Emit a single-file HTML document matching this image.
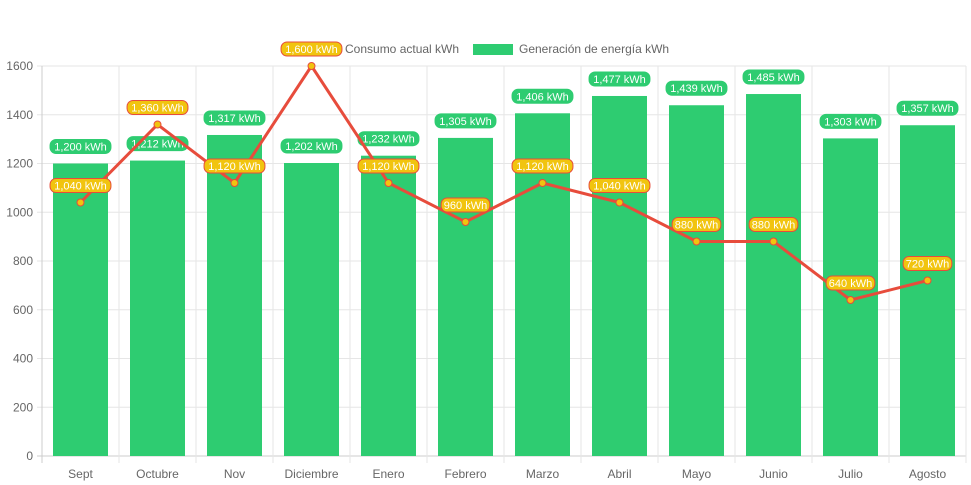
<!DOCTYPE html>
<html><head><meta charset="utf-8"><style>
body{margin:0;background:#fff;}
svg{display:block;font-family:"Liberation Sans",sans-serif;}
</style></head><body>
<svg id="c" width="971" height="485"></svg>
<script>
const categories=["Sept","Octubre","Nov","Diciembre","Enero","Febrero","Marzo","Abril","Mayo","Junio","Julio","Agosto"];
const consumo=[1040,1360,1120,1600,1120,960,1120,1040,880,880,640,720];
const generacion=[1200,1212,1317,1202,1232,1305,1406,1477,1439,1485,1303,1357];
const yTicks=[0,200,400,600,800,1000,1200,1400,1600];
const L=42,R=966,T=66,B=456,yMax=1600;
const step=(R-L)/categories.length;
const x=i=>L+step*(i+0.5);
const y=v=>B-(v/yMax)*(B-T);
const svg=document.getElementById('c');
const NS="http://www.w3.org/2000/svg";
function mk(t,a,p){const e=document.createElementNS(NS,t);for(const k in a)e.setAttribute(k,a[k]);(p||svg).appendChild(e);return e;}
const fmt=v=>v.toLocaleString('en-US')+" kWh";
yTicks.forEach(v=>{
 const g=mk('line',{x1:L-5,x2:R,y1:y(v),y2:y(v),stroke:v===0?'#ccc':'#e6e6e6'});
 
 
 const t=mk('text',{x:L-9,y:y(v)+4,'text-anchor':'end','font-size':12,fill:'#666'});t.textContent=v;
 
 
});
for(let i=0;i<=categories.length;i++){
 const g=mk('line',{x1:L+step*i,x2:L+step*i,y1:T,y2:B+7,stroke:i===0?'#ccc':'#e6e6e6'});
 
 
}
categories.forEach((c,i)=>{
 const t=mk('text',{x:x(i),y:478,'text-anchor':'middle','font-size':12,fill:'#666'});t.textContent=c;
 
 
});
const bw=55;
generacion.forEach((v,i)=>{
 const r=mk('rect',{x:x(i)-bw/2,y:y(v),width:bw,height:B-y(v),fill:'#2ecc71'});
 
 
});
function label(cx,cy,txt,bg,border,name){
 const g=mk('g',{});
 
 
 const w=txt.length*6.1+6;
 mk('rect',{x:cx-w/2,y:cy-7,width:w,height:14,rx:6,fill:bg,stroke:border,'stroke-width':1},g);
 const t=mk('text',{x:cx,y:cy+4,'text-anchor':'middle','font-size':11,fill:'#fff'},g);t.textContent=txt;
}
generacion.forEach((v,i)=>label(x(i),y(v)-17,fmt(v),'#2ecc71','#2ecc71','generation-value-label'));
const pts=consumo.map((v,i)=>x(i)+","+y(v)).join(" ");
const pl=mk('polyline',{points:pts,fill:'none',stroke:'#e74c3c','stroke-width':3});


consumo.forEach((v,i)=>{
 const c=mk('circle',{cx:x(i),cy:y(v),r:3.5,fill:'#f1c40f',stroke:'#e74c3c','stroke-width':1});
 
 
});
const lg=mk('g',{});


const s1=mk('rect',{x:285,y:43,width:55,height:12,fill:'#e74c3c'},lg);


const t1=mk('text',{x:345,y:53,'font-size':12,fill:'#666'},lg);t1.textContent="Consumo actual kWh";


const s2=mk('rect',{x:473,y:44,width:40,height:11,fill:'#2ecc71'},lg);


const t2=mk('text',{x:519,y:53,'font-size':12,fill:'#666'},lg);t2.textContent="Generación de energía kWh";


consumo.forEach((v,i)=>label(x(i),y(v)-17,fmt(v),'#f1c40f','#e74c3c','consumption-value-label'));
</script>
</body></html>
